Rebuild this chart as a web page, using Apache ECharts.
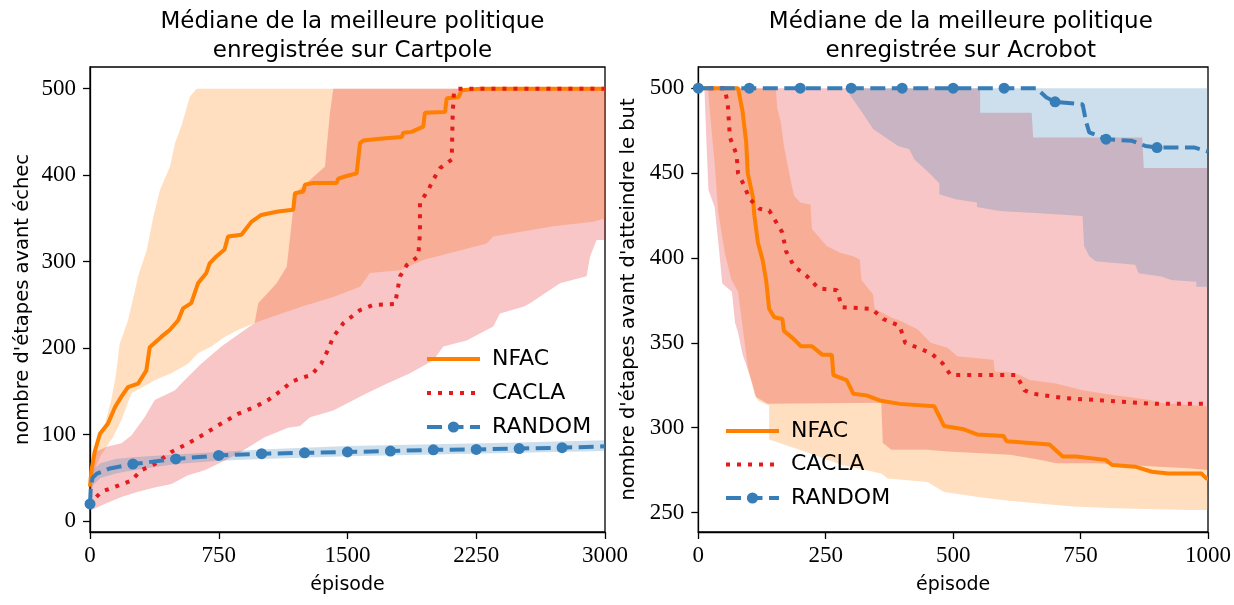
<!DOCTYPE html>
<html>
<head>
<meta charset="utf-8">
<script src="https://cdn.jsdelivr.net/npm/echarts@6/dist/echarts.min.js"></script>
<style>
  html, body { margin: 0; padding: 0; background: #fff; }
  #chart { width: 1234px; height: 605px; }
</style>
</head>
<body>
<div id="chart"></div>
<script>
// ---- axes ----
const cartXTicks = [0, 750, 1500, 2250, 3000];
const cartYTicks = [0, 100, 200, 300, 400, 500];
const acroXTicks = [0, 250, 500, 750, 1000];
const acroYTicks = [250, 300, 350, 400, 450, 500];
const seriesNames = ['NFAC', 'CACLA', 'RANDOM'];
const titles = ['Médiane de la meilleure politique\nenregistrée sur Cartpole',
                'Médiane de la meilleure politique\nenregistrée sur Acrobot'];
const yNames = ["nombre d'étapes avant échec", "nombre d'étapes avant d'atteindre le but"];
const xName = 'épisode';

// ---- Cartpole: medians [episode, steps] ----
const cartNfacMedian = [[0,40],[8,58],[27,80],[58,101],[105,113],[146,132],[183,144],[221,155],[280,159],[328,174],[348,201],[415,213],[464,221],[513,232],[542,246],[590,252],[629,275],[678,287],[697,298],[736,306],[784,314],[804,329],[882,331],[940,346],[998,354],[1095,358],[1184,360],[1194,379],[1243,381],[1252,389],[1301,391],[1437,391],[1446,396],[1495,399],[1553,402],[1573,437],[1592,440],[1689,442],[1816,444],[1825,449],[1873,450],[1941,456],[1951,472],[2068,473],[2078,489],[2146,490],[2165,498],[2272,500],[2999,500]];
const cartCaclaMedian = [[0,18],[8,22],[66,34],[163,41],[241,47],[299,59],[377,66],[474,80],[571,90],[668,101],[765,113],[862,124],[959,132],[1037,140],[1114,151],[1173,161],[1223,165],[1290,169],[1347,182],[1386,198],[1417,213],[1476,229],[1573,244],[1650,250],[1777,251],[1806,283],[1845,296],[1912,306],[1922,333],[1922,368],[1971,383],[2000,395],[2039,408],[2107,418],[2113,472],[2120,495],[2146,500],[2999,500]];
const cartRandomMedian = [[0,20],[5,40],[15,50],[40,55],[116,61],[250,66],[500,72],[750,76],[1000,78],[1250,79],[1500,80],[1750,81],[2000,82.5],[2250,83],[2500,84],[2750,85],[2999,86.5]];
const cartRandomMarks = [0,250,500,750,1000,1250,1500,1750,2000,2250,2500,2750];

// ---- Cartpole: bands ----
const cartNfacHigh = [[0,60],[17,74],[50,92],[77,105],[124,140],[150,168],[173,205],[221,232],[260,265],[280,283],[330,313],[369,352],[408,383],[466,410],[495,437],[534,458],[582,491],[621,500],[2999,500]];
const cartNfacLow = [[0,35],[20,55],[60,75],[110,90],[134,97],[183,117],[241,148],[377,163],[474,171],[571,182],[629,194],[707,202],[784,213],[862,221],[959,229],[1057,236],[1231,248],[1417,259],[1573,271],[1631,287],[1806,290],[1941,302],[2155,313],[2311,321],[2349,329],[2699,341],[2932,346],[2999,350]];
const cartCaclaHigh = [[0,45],[10,70],[30,80],[97,86],[183,90],[241,99],[318,120],[377,140],[493,151],[571,167],[648,182],[765,202],[843,213],[959,229],[980,252],[1087,275],[1146,294],[1194,379],[1262,391],[1369,410],[1379,433],[1398,472],[1417,500],[2999,500]];
const cartCaclaLow = [[0,12],[85,20],[183,28],[280,34],[377,39],[474,43],[571,53],[668,59],[765,68],[862,78],[1017,97],[1153,108],[1223,110],[1282,120],[1417,128],[1612,148],[1728,159],[1864,171],[2000,186],[2058,202],[2194,209],[2349,225],[2388,240],[2524,248],[2563,252],[2738,275],[2893,283],[2913,306],[2951,325],[2999,325]];
const cartRandomHigh = [[0,25],[5,48],[20,60],[60,67],[150,72],[250,74],[500,77],[750,80],[1000,83],[1500,87],[2000,89],[2500,91],[2999,93.5]];
const cartRandomLow = [[0,15],[5,30],[20,42],[60,50],[150,55],[250,59],[500,66],[750,70],[1000,72],[1500,75],[2000,77],[2500,79],[2999,81]];

// ---- Acrobot: medians ----
const acroNfacMedian = [[0,500],[78,500],[87,486],[94,468],[97,450],[107,436],[110,425],[117,409],[126,399],[133,387],[139,370],[149,365],[165,364],[168,357],[188,352],[201,348],[223,348],[243,343],[262,343],[265,331],[291,328],[304,320],[330,319],[356,316],[395,314],[463,312.6],[482,301],[521,299],[547,296],[599,295],[605,292],[689,290],[715,283],[741,283],[799,281],[812,278],[857,277],[890,274],[922,273],[987,273],[997,270],[1000,270]];
const acroCaclaMedian = [[0,500],[52,500],[58,490],[62,471],[75,461],[78,450],[91,442],[100,435],[120,429],[139,428],[165,415],[172,404],[188,395],[214,389],[236,382],[272,381],[282,371],[340,370],[363,364],[395,360],[406,350],[456,344],[479,338],[495,331],[624,331],[640,322],[657,320],[715,317.5],[793,316],[896,314],[1000,314]];
const acroRandomMedian = [[0,500],[100,500],[200,500],[300,500],[400,500],[500,500],[600,500],[663,500],[683,494.5],[700,492],[754,490.5],[761,480],[767,474],[800,470],[851,469],[877,466],[900,465],[974,465],[997,463],[1000,462.5]];
const acroRandomMarks = [0,100,200,300,400,500,600,700,800,900];

// ---- Acrobot: bands ----
const acroNfacHigh = [[0,500],[152,500],[155,488],[162,480],[168,466],[181,446],[188,436.5],[201,432.5],[220,431.5],[223,417],[252,407],[278,403],[304,401],[317,399],[320,387],[343,378.5],[346,370],[385,364],[391,363.7],[430,358],[456,350],[489,347],[508,342],[579,340],[582,333],[605,333],[631,331],[650,328],[702,326],[754,322],[806,319.5],[884,316.5],[909,314.5],[1000,312.5]];
const acroNfacLow = [[0,500],[19,500],[23,485],[32,456],[39,427],[52,403],[65,387],[78,380],[91,350],[97,336],[110,320],[117,316],[139,313],[139,293],[217,285],[282,278],[359,273],[372,270],[450,268],[482,262],[553,259],[605,257],[663,255.5],[735,253.5],[818,252.5],[961,251.5],[1000,251.5]];
const acroCaclaHigh = [[0,500],[553,500],[553,485.6],[654,485.6],[657,471],[871,471],[874,453],[1000,453]];
const acroCaclaLow = [[0,500],[12,500],[16,468],[20,440],[32,430],[40,407],[47,385],[66,380],[72,362],[78,356],[87,343],[94,337],[107,325],[113,318],[136,314],[359,314.6],[362,291],[379,287],[450,287],[489,286],[612,284],[670,281],[702,279],[780,279],[903,277],[961,276],[1000,275]];
const acroRandomHigh = [[0,500],[1000,500]];
const acroRandomLow = [[0,500],[291,500],[300,495],[321,486],[343,476],[392,466],[414,464],[424,458],[453,450],[473,444],[473,437.5],[505,434.5],[547,432.6],[547,430],[592,427.6],[670,426.3],[754,424.7],[757,407],[767,401],[780,398],[857,396],[864,391],[909,389],[928,387],[977,386],[977,383],[1000,383]];

// ---- styling ----
const COLORS = { NFAC: '#ff7f00', CACLA: '#e41a1c', RANDOM: '#377eb8' };
const FILLS = { NFAC: 'rgba(255,127,0,0.25)', CACLA: 'rgba(228,26,28,0.25)', RANDOM: 'rgba(55,126,184,0.25)' };
const SANS = 'DejaVu Sans';
const SERIF = 'Liberation Serif';

// filled region between an upper and a lower curve, mapped through the grid's axes
function band(upper, lower, fill, idx) {
  return {
    type: 'custom', xAxisIndex: idx, yAxisIndex: idx, silent: true, z: 1,
    data: [upper[0]],
    renderItem: function (params, api) {
      const pts = upper.map(p => api.coord(p))
        .concat(lower.slice().reverse().map(p => api.coord(p)));
      return { type: 'polygon', shape: { points: pts }, style: { fill: fill } };
    }
  };
}

function lineSeries(name, data, idx, marks) {
  const s = {
    name: name, type: 'line', xAxisIndex: idx, yAxisIndex: idx,
    z: 3, silent: true, emphasis: { disabled: true },
    itemStyle: { color: COLORS[name], borderWidth: 0 },
    lineStyle: { color: COLORS[name], width: 4, cap: 'butt' },
    symbol: 'none', data: data
  };
  if (name === 'CACLA') s.lineStyle.type = [4, 7];
  if (name === 'RANDOM') {
    s.lineStyle.type = [15, 6.5];
    s.symbol = 'circle';
    s.symbolSize = 11;
    s.z = 4;
    s.data = data.map(d => marks.indexOf(d[0]) >= 0
      ? { value: d, symbol: 'circle' } : { value: d, symbol: 'none' });
  }
  return s;
}

const plainNumber = v => String(v);

function xAxisOf(idx, max, ticks) {
  return {
    type: 'value', gridIndex: idx, min: 0, max: max,
    axisLine: { show: true, onZero: false, lineStyle: { color: '#000', width: 1.3 } },
    axisTick: { show: true, length: 7, lineStyle: { color: '#000', width: 1.3 }, customValues: ticks },
    axisLabel: { customValues: ticks, formatter: plainNumber, fontFamily: SERIF, fontSize: 23, color: '#000', margin: 12 },
    splitLine: { show: false },
    name: xName, nameLocation: 'middle', nameGap: 44,
    nameTextStyle: { fontFamily: SANS, fontSize: 19, color: '#000' }
  };
}

function yAxisOf(idx, min, max, ticks, name, gap) {
  return {
    type: 'value', gridIndex: idx, min: min, max: max,
    axisLine: { show: true, onZero: false, lineStyle: { color: '#000', width: 1.3 } },
    axisTick: { show: true, length: 7, lineStyle: { color: '#000', width: 1.3 }, customValues: ticks },
    axisLabel: { customValues: ticks, formatter: plainNumber, fontFamily: SERIF, fontSize: 23, color: '#000', margin: 14 },
    splitLine: { show: false },
    name: name, nameLocation: 'middle', nameGap: gap, nameRotate: 90,
    nameTextStyle: { fontFamily: SANS, fontSize: 19.5, color: '#000' }
  };
}

// legend entries: plain lines for NFAC / CACLA, line with a dot for RANDOM
function legendAt(left, top, gap) {
  return {
    data: [
      { name: 'NFAC', itemStyle: { opacity: 0 } },
      { name: 'CACLA', itemStyle: { opacity: 0 } },
      { name: 'RANDOM' }
    ],
    orient: 'vertical', left: left, top: top,
    itemWidth: 53, itemHeight: 14, itemGap: gap, selectedMode: false,
    lineStyle: { width: 4 },
    textStyle: { fontFamily: SANS, fontSize: 22, color: '#000', padding: [0, 0, 0, 7], lineHeight: 22 }
  };
}

function titleAt(x, text) {
  return {
    text: text, left: x, top: 3, textAlign: 'center',
    textStyle: { fontFamily: SANS, fontSize: 23, fontWeight: 'normal', color: '#000', lineHeight: 29 }
  };
}

const chart = echarts.init(document.getElementById('chart'));
chart.setOption({
  animation: false,
  backgroundColor: '#fff',
  title: [titleAt(347.5, titles[0]), titleAt(955.8, titles[1])],
  legend: [legendAt(420, 343, 12), legendAt(719, 415, 11.5)],
  grid: [
    { left: 90, top: 67, width: 515, height: 465, show: true, borderColor: '#000', borderWidth: 1.3, backgroundColor: 'transparent' },
    { left: 698.3, top: 67, width: 515, height: 465, show: true, borderColor: '#000', borderWidth: 1.3, backgroundColor: 'transparent' }
  ],
  xAxis: [xAxisOf(0, 3000, cartXTicks), xAxisOf(1, 1000, acroXTicks)],
  yAxis: [
    yAxisOf(0, -12.5, 525, cartYTicks, yNames[0], 57),
    yAxisOf(1, 238.5, 512.5, acroYTicks, yNames[1], 59)
  ],
  series: [
    band(cartNfacHigh, cartNfacLow, FILLS.NFAC, 0),
    band(cartCaclaHigh, cartCaclaLow, FILLS.CACLA, 0),
    band(cartRandomHigh, cartRandomLow, FILLS.RANDOM, 0),
    lineSeries('NFAC', cartNfacMedian, 0),
    lineSeries('CACLA', cartCaclaMedian, 0),
    lineSeries('RANDOM', cartRandomMedian, 0, cartRandomMarks),
    band(acroNfacHigh, acroNfacLow, FILLS.NFAC, 1),
    band(acroCaclaHigh, acroCaclaLow, FILLS.CACLA, 1),
    band(acroRandomHigh, acroRandomLow, FILLS.RANDOM, 1),
    lineSeries('NFAC', acroNfacMedian, 1),
    lineSeries('CACLA', acroCaclaMedian, 1),
    lineSeries('RANDOM', acroRandomMedian, 1, acroRandomMarks)
  ]
});
</script>
</body>
</html>
